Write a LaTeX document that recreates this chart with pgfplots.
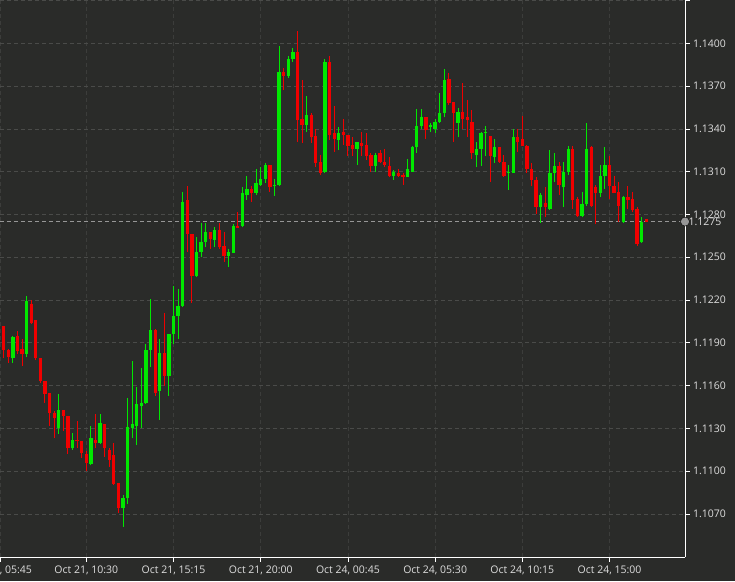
\documentclass[border=0pt]{standalone}
\usepackage{pgfplots}
\pgfplotsset{compat=1.18}
\usepackage{pgfplotstable}
\usepackage{fontspec}
\setmainfont{Open Sans}
\definecolor{bg}{RGB}{42,43,41}
\definecolor{cup}{RGB}{0,232,0}
\definecolor{cdn}{RGB}{240,0,0}
\definecolor{gridc}{RGB}{74,75,73}
\definecolor{vgridc}{RGB}{60,61,59}
\definecolor{txt}{RGB}{222,222,222}
\definecolor{pricec}{RGB}{150,150,150}
\pgfplotstableread{
i o h l c
1 1.1202 1.1202 1.1179 1.1185
2 1.1185 1.1186 1.1176 1.1180
3 1.1179 1.1195 1.1176 1.1194
4 1.1195 1.1198 1.1182 1.1184
5 1.1186 1.1193 1.1174 1.1182
6 1.1182 1.1223 1.1180 1.1219
7 1.1217 1.1220 1.1203 1.1204
8 1.1206 1.1206 1.1178 1.1179
9 1.1179 1.1179 1.1162 1.1163
10 1.1163 1.1163 1.1148 1.1154
11 1.1155 1.1155 1.1132 1.1141
12 1.1141 1.1142 1.1123 1.1137
13 1.1130 1.1154 1.1126 1.1143
14 1.1143 1.1143 1.1128 1.1139
15 1.1139 1.1139 1.1112 1.1116
16 1.1116 1.1127 1.1115 1.1122
17 1.1122 1.1135 1.1116 1.1121
18 1.1121 1.1121 1.1109 1.1113
19 1.1112 1.1114 1.1100 1.1106
20 1.1105 1.1132 1.1104 1.1123
21 1.1122 1.1140 1.1116 1.1120
22 1.1120 1.1140 1.1119 1.1134
23 1.1133 1.1133 1.1110 1.1116
24 1.1115 1.1116 1.1103 1.1108
25 1.1111 1.1120 1.1090 1.1091
26 1.1092 1.1092 1.1071 1.1074
27 1.1074 1.1083 1.1061 1.1081
28 1.1081 1.1151 1.1077 1.1131
29 1.1130 1.1177 1.1123 1.1133
30 1.1132 1.1159 1.1118 1.1147
31 1.1146 1.1172 1.1130 1.1148
32 1.1148 1.1189 1.1147 1.1185
33 1.1185 1.1221 1.1173 1.1199
34 1.1199 1.1200 1.1153 1.1155
35 1.1156 1.1193 1.1136 1.1183
36 1.1183 1.1211 1.1160 1.1167
37 1.1167 1.1196 1.1153 1.1196
38 1.1196 1.1230 1.1189 1.1209
39 1.1209 1.1228 1.1193 1.1216
40 1.1216 1.1296 1.1215 1.1289
41 1.1290 1.1300 1.1254 1.1266
42 1.1266 1.1266 1.1218 1.1237
43 1.1237 1.1264 1.1236 1.1254
44 1.1254 1.1274 1.1250 1.1261
45 1.1261 1.1274 1.1257 1.1268
46 1.1268 1.1268 1.1256 1.1263
47 1.1262 1.1271 1.1257 1.1269
48 1.1269 1.1274 1.1256 1.1257
49 1.1258 1.1268 1.1247 1.1251
50 1.1251 1.1256 1.1243 1.1254
51 1.1253 1.1273 1.1253 1.1272
52 1.1272 1.1282 1.12705 1.12708
53 1.1272 1.1299 1.1271 1.1295
54 1.1294 1.1307 1.1290 1.1298
55 1.1298 1.1300 1.1289 1.1295
56 1.1295 1.1312 1.1294 1.1302
57 1.1301 1.1313 1.1300 1.1305
58 1.1305 1.1316 1.1302 1.1315
59 1.1315 1.1315 1.1296 1.1299
60 1.1300 1.1305 1.1293 1.1301
61 1.1301 1.1398 1.1300 1.1380
62 1.1380 1.1383 1.1367 1.1377
63 1.1377 1.1391 1.1376 1.1389
64 1.1389 1.1397 1.1387 1.1394
65 1.1394 1.1409 1.1331 1.1346
66 1.1347 1.1374 1.1330 1.1343
67 1.1343 1.1363 1.1338 1.1350
68 1.1350 1.1351 1.1330 1.1334
69 1.1335 1.1340 1.1313 1.1316
70 1.1317 1.1322 1.1308 1.1309
71 1.1310 1.1389 1.1309 1.1387
72 1.1387 1.1391 1.1332 1.1336
73 1.1337 1.1356 1.1324 1.1333
74 1.1332 1.1341 1.1325 1.1337
75 1.1338 1.1347 1.1329 1.1336
76 1.1336 1.1336 1.1321 1.1328
77 1.1329 1.1334 1.1321 1.1326
78 1.1326 1.1331 1.1315 1.1331
79 1.1330 1.1338 1.1321 1.1328
80 1.1329 1.1337 1.1318 1.1321
81 1.1322 1.1323 1.1310 1.1314
82 1.1314 1.1323 1.1310 1.1322
83 1.1323 1.1325 1.1316 1.1317
84 1.1317 1.1326 1.1313 1.1315
85 1.1314 1.1320 1.1306 1.1307
86 1.1307 1.1311 1.1304 1.1310
87 1.1309 1.1312 1.1306 1.1307
88 1.1308 1.1309 1.1301 1.1306
89 1.1306 1.1319 1.1306 1.1312
90 1.1310 1.1328 1.1310 1.1327
91 1.1327 1.1354 1.1323 1.1342
92 1.1342 1.1354 1.1340 1.1348
93 1.1348 1.1348 1.1333 1.1339
94 1.1341 1.1344 1.1338 1.1343
95 1.1340 1.1347 1.1337 1.1345
96 1.1345 1.1365 1.1344 1.1351
97 1.1351 1.1382 1.1348 1.1374
98 1.1375 1.1379 1.1357 1.1358
99 1.1359 1.1359 1.1331 1.1351
100 1.1344 1.1355 1.1334 1.1352
101 1.1352 1.1372 1.1340 1.1347
102 1.1348 1.1360 1.1334 1.1346
103 1.1345 1.1353 1.1319 1.1323
104 1.1322 1.1331 1.1313 1.1326
105 1.1326 1.1338 1.1314 1.1337
106 1.1337 1.1342 1.1321 1.1338
107 1.1335 1.1335 1.1303 1.1321
108 1.1320 1.1333 1.1316 1.1327
109 1.1327 1.1327 1.1316 1.1317
110 1.1317 1.1322 1.1306 1.1307
111 1.1309 1.1315 1.1297 1.1310
112 1.1309 1.1340 1.1309 1.1334
113 1.1334 1.1340 1.1324 1.1331
114 1.1333 1.1349 1.1328 1.1328
115 1.1328 1.1329 1.1309 1.1312
116 1.1312 1.1316 1.1300 1.1304
117 1.1304 1.1306 1.1280 1.1285
118 1.1285 1.1295 1.1274 1.1294
119 1.1288 1.1299 1.1278 1.1285
120 1.1284 1.1325 1.1283 1.1309
121 1.1309 1.1323 1.1303 1.1314
122 1.1314 1.1317 1.1294 1.1301
123 1.1299 1.1317 1.1285 1.1310
124 1.1310 1.1328 1.1308 1.1326
125 1.1326 1.1328 1.1284 1.1290
126 1.1291 1.1292 1.1278 1.1279
127 1.1279 1.1296 1.1278 1.1287
128 1.1287 1.1344 1.1286 1.1326
129 1.1327 1.1328 1.1285 1.1286
130 1.1299 1.1301 1.1273 1.1295
131 1.1295 1.1315 1.1292 1.1307
132 1.1307 1.1327 1.1298 1.1315
133 1.1315 1.1321 1.1291 1.1300
134 1.1300 1.1307 1.1295 1.1295
135 1.1296 1.1303 1.1275 1.1286
136 1.1275 1.1293 1.1274 1.1292
137 1.1292 1.1300 1.1284 1.1290
138 1.1291 1.1296 1.1282 1.1283
139 1.1284 1.1285 1.1258 1.1259
140 1.1261 1.1278 1.1260 1.1275
141 1.12765 1.1277 1.12745 1.1275
}\candles
\begin{document}
\begin{tikzpicture}
\path[use as bounding box, fill=bg] (0,-24pt) rectangle (735pt,557pt);
\begin{axis}[
  at={(0,0)}, anchor=south west,
  scale only axis, width=685pt, height=557pt,
  xmin=0.196, xmax=149.44, ymin=1.10398, ymax=1.14304,
  clip mode=individual,
  axis x line*=bottom, axis y line*=right,
  axis line style={-, draw=white, line width=0.9pt},
  tick align=outside, major tick length=4.5pt,
  tick style={draw=white, line width=0.8pt},
  xtick={0.2,19,38,57,76,95,114,133},
  xticklabels={{Oct 21, 05:45},{Oct 21, 10:30},{Oct 21, 15:15},{Oct 21, 20:00},{Oct 24, 00:45},{Oct 24, 05:30},{Oct 24, 10:15},{Oct 24, 15:00}},
  xticklabel style={yshift=-1pt},
  ytick={1.107,1.110,1.113,1.116,1.119,1.122,1.125,1.128,1.131,1.134,1.137,1.140,1.143},
  yticklabels={1.1070,1.1100,1.1130,1.1160,1.1190,1.1220,1.1250,1.1280,1.1310,1.1340,1.1370,1.1400,{}},
  extra y ticks={1.1275}, extra y tick labels={1.1275},
  extra y tick style={grid=none, major tick length=0pt},
  ticklabel style={font=\fontsize{10.5}{12}\selectfont, text=txt},
  xmajorgrids, ymajorgrids,
  x grid style={draw=vgridc, dash pattern=on 4pt off 3pt, line width=0.8pt},
  y grid style={draw=gridc, dash pattern=on 4pt off 3pt, line width=0.8pt},
  candle/.style={only marks, mark size=0pt, mark options={draw=none, fill=none},
    error bars/y dir=plus, error bars/y explicit, error bars/error mark=none},
]
\addplot[draw=pricec, dash pattern=on 4pt off 3pt, line width=0.8pt, forget plot] coordinates {(0.196,1.1275) (149.44,1.1275)};
% wicks up
\addplot[candle, error bars/error bar style={draw=cup, line width=1pt}]
  table[x=i, y expr={\thisrow{c}>\thisrow{o} ? \thisrow{l} : nan}, y error expr={\thisrow{h}-\thisrow{l}}] {\candles};
% wicks down
\addplot[candle, error bars/error bar style={draw=cdn, line width=1pt}]
  table[x=i, y expr={\thisrow{c}>\thisrow{o} ? nan : \thisrow{l}}, y error expr={\thisrow{h}-\thisrow{l}}] {\candles};
% bodies up
\addplot[candle, error bars/error bar style={draw=cup, line width=3.3pt}]
  table[x=i, y expr={\thisrow{c}>\thisrow{o} ? \thisrow{o} : nan}, y error expr={max(\thisrow{c}-\thisrow{o},0.000015)}] {\candles};
% bodies down
\addplot[candle, error bars/error bar style={draw=cdn, line width=3.3pt}]
  table[x=i, y expr={\thisrow{c}>\thisrow{o} ? nan : \thisrow{c}}, y error expr={max(\thisrow{o}-\thisrow{c},0.000015)}] {\candles};
\addplot[only marks, mark=*, mark size=4.5pt, mark options={fill=pricec, draw=none}, clip=false] coordinates {(149.44,1.1275)};
\end{axis}
\end{tikzpicture}
\end{document}
